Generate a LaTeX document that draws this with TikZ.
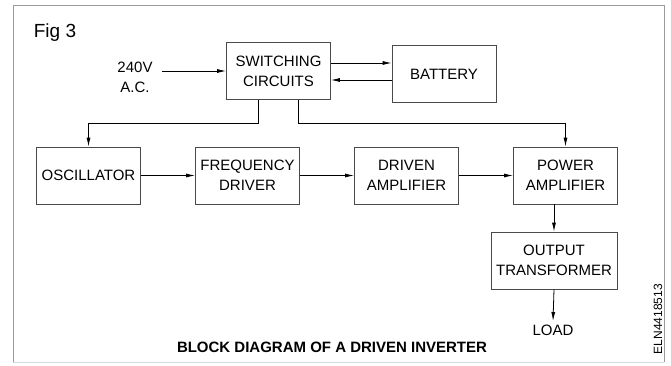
\documentclass[tikz,border=0pt]{standalone}
\usepackage{fontspec}
\setmainfont{Liberation Sans}
\usepackage{tikz}
\usetikzlibrary{arrows.meta}
\tikzset{>={Latex[length=9pt,width=4pt]}}
\definecolor{boxline}{HTML}{4A4A4A}
\definecolor{framegray}{HTML}{9A9A9A}
\tikzset{
  blockbox/.style={draw=boxline, line width=0.8pt, minimum width=104pt, minimum height=57pt,
    inner sep=0pt, align=center, font=\fontsize{15}{20}\selectfont},
  lbl/.style={align=center, font=\fontsize{15}{20}\selectfont},
}

\begin{document}
\begin{tikzpicture}[x=1pt, y=-1pt, line width=0.8pt]
            \useasboundingbox (0,0) rectangle (671,365);
            \draw[framegray] (13,362) -- (13,5) -- (664,5) -- (664,362);
            \draw[black!15] (13,362) -- (664,362);
            \node (fig) at (55,33) {\fontsize{19}{22}\selectfont Fig 3};
            \node[blockbox] (sw) at (278.5,71) {SWITCHING\\CIRCUITS};
            \node[blockbox] (batt) at (444,74) {BATTERY};
            \node[lbl] (ac) at (135,77) {240V\\A.C.};
            \node[blockbox] (osc) at (88.5,175.5) {OSCILLATOR};
            \node[blockbox] (fdrv) at (247.5,175.5) {FREQUENCY\\DRIVER};
            \node[blockbox] (damp) at (406.5,175.5) {DRIVEN\\AMPLIFIER};
            \node[blockbox] (pamp) at (565.5,175.5) {POWER\\AMPLIFIER};
            \node[blockbox, minimum width=126pt] (otr) at (554,260.5) {OUTPUT\\TRANSFORMER};
            \node[lbl] (load) at (553,330) {LOAD};
            \node (title) at (332,347) {\fontsize{15}{18}\selectfont\bfseries BLOCK DIAGRAM OF A DRIVEN INVERTER};
            \node[rotate=90] (code) at (658,319) {\fontsize{12}{14}\selectfont ELN4418513};
            \coordinate (acin) at ([xshift=6pt]ac.east);
            \draw[->] (acin |- sw.west) -- (sw.west);
            \draw[->] ([yshift=8pt]sw.east) -- ([yshift=8pt]sw.east -| batt.west);
            \draw[->] ([yshift=-6pt]batt.west) -- ([yshift=-6pt]batt.west -| sw.east);
            \draw[->] ([xshift=-20.5pt]sw.south) -- ++(0,23) -| (osc.north);
            \draw[->] ([xshift=19.5pt]sw.south) -- ++(0,23) -| (pamp.north);
            \draw[->] (osc) -- (fdrv);
            \draw[->] (fdrv) -- (damp);
            \draw[->] (damp) -- (pamp);
            \draw[->] (pamp.south -| otr.north) -- (otr.north);
            \draw[->] (otr.south) -- (load.north);
        \end{tikzpicture}
\end{document}
